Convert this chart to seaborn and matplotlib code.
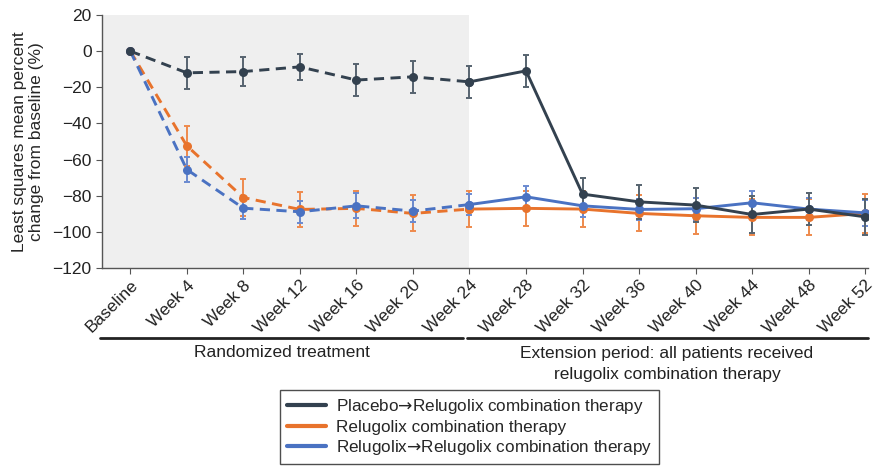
import matplotlib
matplotlib.use("Agg")
import matplotlib.pyplot as plt
from matplotlib.lines import Line2D
import numpy as np
import pandas as pd
import seaborn as sns

# Visit labels
visits = ["Baseline", "Week 4", "Week 8", "Week 12", "Week 16", "Week 20", "Week 24",
          "Week 28", "Week 32", "Week 36", "Week 40", "Week 44", "Week 48", "Week 52"]

# LS mean percent change from baseline and error bar half-widths
placebo = [0, -12, -11.3, -8.7, -16, -14.2, -17, -10.9, -79.1, -83.4, -85.2, -90.4, -87.4, -91.7]
placebo_err = [0, 8.8, 8, 7, 8.8, 8.7, 8.7, 9, 9, 9.5, 9.5, 10, 9, 10]

relugolix = [0, -52.4, -81, -87.6, -87, -89.8, -87.4, -87, -87.4, -89.8, -91.1, -92, -92, -89.8]
relugolix_err = [0, 11, 10, 9.8, 9.8, 10, 10, 9.5, 10, 10, 10, 10, 10, 11]

relu_relu = [0, -65.5, -86.9, -88.9, -85.6, -88.5, -84.9, -80.6, -85.6, -87.6, -87.2, -83.9, -87.4, -89.5]
relu_relu_err = [0, 7, 6, 6, 7, 6, 6, 6, 6, 6, 6, 6.5, 6, 7]

series_names = ["Placebo$\u2192$Relugolix combination therapy",
                "Relugolix combination therapy",
                "Relugolix$\u2192$Relugolix combination therapy"]
colors = ["#33414f", "#e8732c", "#4a72c2"]
err_colors = ["#56636f", "#ee8a4c", "#6a8ad0"]

sns.set_theme(style="white")
plt.rcParams["font.family"] = ["Liberation Sans", "DejaVu Sans"]
plt.rcParams["mathtext.fontset"] = "dejavusans"

fig = plt.figure(figsize=(8.78, 4.69), dpi=100)
ax = fig.add_axes([0.1162, 0.4286, 0.8724, 0.5394])

x = np.arange(len(visits))
split = visits.index("Week 24")

# Shaded randomized-treatment period
ax.axvspan(-0.5, split, color="#efefef", zorder=0, lw=0)

all_vals = [placebo, relugolix, relu_relu]
all_errs = [placebo_err, relugolix_err, relu_relu_err]
order = [1, 2, 0]
for i in order:
    vals, errs = all_vals[i], all_errs[i]
    df = pd.DataFrame({"x": x, "y": vals})
    ax.errorbar(x[1:], vals[1:], yerr=errs[1:], fmt="none", ecolor=err_colors[i],
                elinewidth=1.4, capsize=2.5, capthick=1.4, zorder=2)
    sns.lineplot(data=df.iloc[:split + 1], x="x", y="y", ax=ax, color=colors[i],
                 linestyle=(0, (3.5, 2.2)), linewidth=2.1, marker="o", markersize=6.5,
                 markeredgewidth=0, zorder=3)
    sns.lineplot(data=df.iloc[split:], x="x", y="y", ax=ax, color=colors[i],
                 linestyle="-", linewidth=2.1, marker="o", markersize=6.5,
                 markeredgewidth=0, zorder=3)

ax.set_xlim(-0.5, 13.05)
ax.set_ylim(-120, 20)
ax.set_yticks(np.arange(-120, 21, 20))
ax.set_yticklabels([f"{v}".replace("-", "\u2212") for v in range(-120, 21, 20)], fontsize=12.5)
ax.set_xticks(x)
ax.set_xticklabels(visits, rotation=45, ha="right", rotation_mode="anchor", fontsize=12.5)
ax.set_xlabel("")
ax.set_ylabel("Least squares mean percent\nchange from baseline (%)", fontsize=12.5, labelpad=6)

for s in ["top", "right"]:
    ax.spines[s].set_visible(False)
for s in ["left", "bottom"]:
    ax.spines[s].set_color("#555555")
    ax.spines[s].set_linewidth(1.0)
ax.tick_params(axis="both", which="both", length=4, width=0.8, color="#555555",
               direction="out", bottom=True, left=True, colors="#222222")
ax.tick_params(axis="x", pad=3)

# Period brackets under the axis
fig.add_artist(Line2D([100 / 878, 463 / 878], [1 - 338 / 469] * 2, color="#222222", lw=2))
fig.add_artist(Line2D([467 / 878, 868 / 878], [1 - 338 / 469] * 2, color="#222222", lw=2))
fig.text(282 / 878, 1 - 352 / 469, "Randomized treatment", ha="center", va="center",
         fontsize=12.5, color="#222222")
fig.text(667 / 878, 1 - 364 / 469,
         "Extension period: all patients received\nrelugolix combination therapy",
         ha="center", va="center", fontsize=12.5, color="#222222", linespacing=1.45)

handles = [Line2D([0], [0], color=c, lw=3) for c in colors]
leg = fig.legend(handles, series_names, loc="lower center", bbox_to_anchor=(0.535, -0.008),
                 frameon=True, fancybox=False, fontsize=12.3, handlelength=2.3,
                 handletextpad=0.6, borderpad=0.4, labelspacing=0.22)
leg.get_frame().set_edgecolor("#222222")
leg.get_frame().set_linewidth(1.0)

fig.savefig("out.png", dpi=100)
